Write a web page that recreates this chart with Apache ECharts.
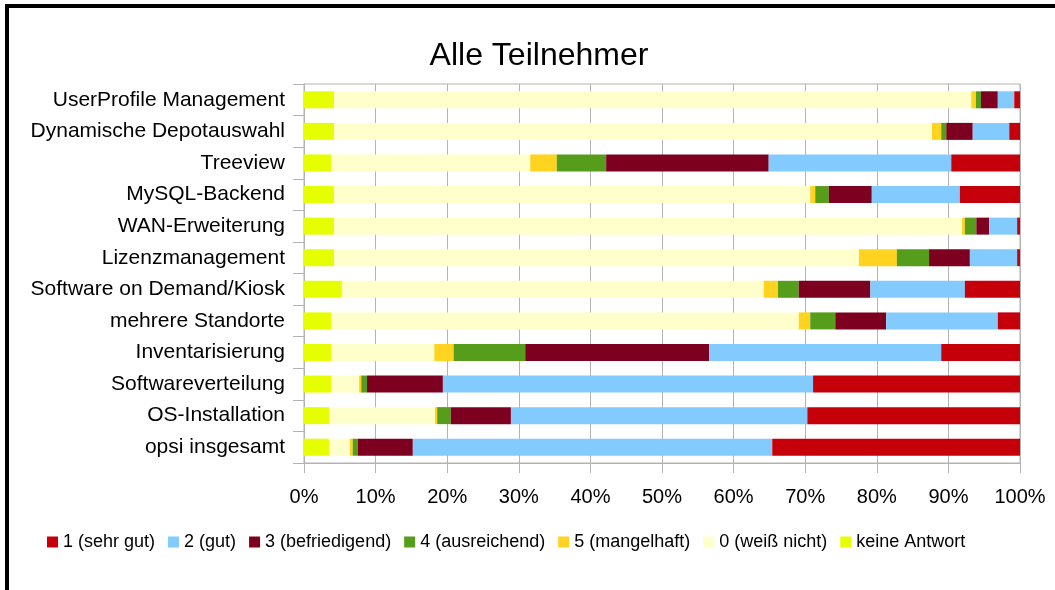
<!DOCTYPE html>
<html>
<head>
<meta charset="utf-8">
<script src="https://cdn.jsdelivr.net/npm/echarts@6/dist/echarts.min.js"></script>
<style>
	body { margin: 0; background: #fff; }
	#echart { position: absolute; left: 0; top: 0; width: 1055px; height: 590px; }
	#frame { position: absolute; left: 5px; top: 4px; right: 0; bottom: 0;
		border-top: 4px solid #000; border-left: 4px solid #000; pointer-events: none; }
</style>
</head>
<body>
<div id="echart"></div>
<div id="frame"></div>
<script>
var categories = ['UserProfile Management', 'Dynamische Depotauswahl', 'Treeview', 'MySQL-Backend',
	'WAN-Erweiterung', 'Lizenzmanagement', 'Software on Demand/Kiosk', 'mehrere Standorte',
	'Inventarisierung', 'Softwareverteilung', 'OS-Installation', 'opsi insgesamt'];

// Anteile in Prozent, Reihenfolge wie categories
var keineAntwort = [4.2, 4.2, 3.8, 4.2, 4.2, 4.2, 5.3, 3.8, 3.8, 3.8, 3.5, 3.5];
var weissNicht   = [89.0, 83.5, 27.8, 66.5, 87.7, 73.3, 58.9, 65.3, 14.4, 3.9, 14.8, 2.9];
var note5        = [0.65, 1.3, 3.7, 0.7, 0.4, 5.3, 2.0, 1.6, 2.7, 0.3, 0.3, 0.4];
var note4        = [0.7, 0.7, 6.9, 1.9, 1.6, 4.5, 2.9, 3.5, 10.0, 0.8, 1.9, 0.7];
var note3        = [2.35, 3.7, 22.7, 6.0, 1.8, 5.7, 10.0, 7.1, 25.7, 10.6, 8.4, 7.7];
var note2        = [2.3, 5.1, 25.5, 12.3, 3.9, 6.6, 13.2, 15.6, 32.4, 51.7, 41.4, 50.2];
var note1        = [0.8, 1.5, 9.6, 8.4, 0.4, 0.4, 7.7, 3.1, 11.0, 28.9, 29.7, 34.6];

var xTicks = [0, 10, 20, 30, 40, 50, 60, 70, 80, 90, 100];

var legendNames = ['1 (sehr gut)', '2 (gut)', '3 (befriedigend)', '4 (ausreichend)',
	'5 (mangelhaft)', '0 (weiß nicht)', 'keine Antwort'];

var font = 'Liberation Sans, Arial, sans-serif';

function bar(name, data, color) {
	return {
		name: name,
		type: 'bar',
		stack: 'alle',
		barWidth: 17,
		itemStyle: { color: color },
		data: data
	};
}

var myChart = echarts.init(document.getElementById('echart'));
myChart.setOption({
	animation: false,
	title: {
		text: 'Alle Teilnehmer',
		left: 534,
		top: 35,
		textAlign: 'center',
		textStyle: { fontFamily: font, fontSize: 32, fontWeight: 'normal', color: '#000' }
	},
	legend: {
		data: legendNames,
		left: 42,
		top: 528,
		itemWidth: 11,
		itemHeight: 11,
		itemGap: 13,
		icon: 'rect',
		textStyle: { fontFamily: font, fontSize: 18, color: '#000' }
	},
	grid: {
		left: 304,
		right: 35,
		top: 84,
		bottom: 127,
		show: true,
		borderColor: '#b3b3b3',
		borderWidth: 1
	},
	xAxis: {
		type: 'value',
		min: xTicks[0],
		max: xTicks[xTicks.length - 1],
		interval: 10,
		axisLine: { show: true, lineStyle: { color: '#b3b3b3' } },
		axisTick: { show: true, length: 10, lineStyle: { color: '#b3b3b3' } },
		splitLine: { show: true, lineStyle: { color: '#b3b3b3', width: 1 } },
		axisLabel: {
			margin: 24,
			fontFamily: font,
			fontSize: 20,
			color: '#000',
			formatter: '{value}%'
		}
	},
	yAxis: {
		type: 'category',
		inverse: true,
		data: categories,
		axisLine: { show: true, lineStyle: { color: '#b3b3b3' } },
		axisTick: { show: true, length: 11, lineStyle: { color: '#b3b3b3' } },
		axisLabel: { margin: 19, fontFamily: font, fontSize: 21, color: '#000' }
	},
	series: [
		bar('keine Antwort', keineAntwort, '#e6ff00'),
		bar('0 (weiß nicht)', weissNicht, '#ffffcc'),
		bar('5 (mangelhaft)', note5, '#ffd320'),
		bar('4 (ausreichend)', note4, '#579d1c'),
		bar('3 (befriedigend)', note3, '#7e0021'),
		bar('2 (gut)', note2, '#83caff'),
		bar('1 (sehr gut)', note1, '#c5000b')
	]
});
</script>
</body>
</html>
